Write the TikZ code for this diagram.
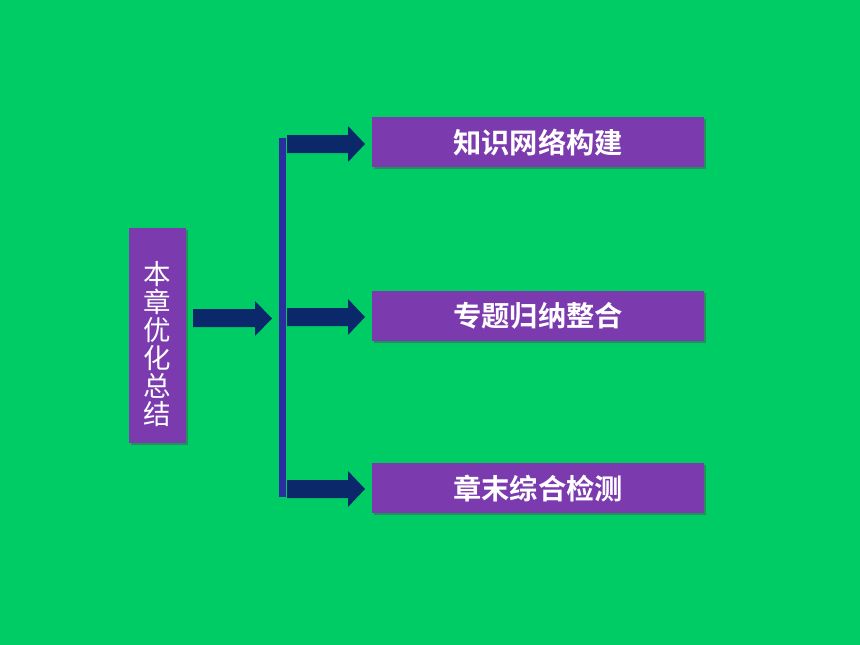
\documentclass[tikz,border=0pt]{standalone}
\usepackage{fontspec}
\newfontfamily\cjk{Noto Sans CJK SC}
\newfontfamily\cjkb{Noto Sans CJK SC Bold}
\usetikzlibrary{shadows}
\definecolor{bg}{HTML}{00CC66}
\definecolor{boxp}{HTML}{7B3AAE}
\definecolor{arr}{HTML}{0A286A}
\definecolor{barc}{HTML}{2A2E9E}
\begin{document}
\begin{tikzpicture}[x=1pt,y=-1pt,
  pbox/.style={fill=boxp,draw=none,drop shadow={shadow xshift=1.5pt,shadow yshift=-1.5pt,opacity=0.45,fill=black!70}},
  arrowshape/.style={fill=arr,draw=none}]
\fill[bg] (0,0) rectangle (860,645);
\useasboundingbox (0,0) rectangle (860,645);
% left box
\node[pbox,minimum width=57pt,minimum height=215pt,inner sep=0pt,anchor=north west] (L) at (129,228) {};
\node[text=white,font=\cjk\fontsize{27.5}{28}\selectfont,align=center,inner sep=0pt] (Lt) at (157.5,344) {本\\章\\优\\化\\总\\结};
% right boxes
\node[pbox,minimum width=332pt,minimum height=50pt,inner sep=0pt,anchor=north west] (A) at (372,117) {};
\node[text=white,font=\cjkb\fontsize{28.3}{30}\selectfont,inner sep=0pt] at (A.center) {知识网络构建};
\node[pbox,minimum width=332pt,minimum height=50pt,inner sep=0pt,anchor=north west] (B) at (372,291) {};
\node[text=white,font=\cjkb\fontsize{28.3}{30}\selectfont,inner sep=0pt] at (B.center) {专题归纳整合};
\node[pbox,minimum width=332pt,minimum height=50pt,inner sep=0pt,anchor=north west] (C) at (372,463) {};
\node[text=white,font=\cjkb\fontsize{28.3}{30}\selectfont,inner sep=0pt] at (C.center) {章末综合检测};
% vertical bar
\fill[barc] (279,138) rectangle (286,497);
% left arrow
\fill[arr] (193,309) -- (255,309) -- (255,301) -- (272,318.5) -- (255,336) -- (255,327) -- (193,327) -- cycle;
% right arrows
\fill[arr] (287,135) -- (348,135) -- (348,126) -- (365,144) -- (348,162) -- (348,153) -- (287,153) -- cycle;
\fill[arr] (287,308) -- (348,308) -- (348,299) -- (365,317) -- (348,335) -- (348,326) -- (287,326) -- cycle;
\fill[arr] (287,480) -- (348,480) -- (348,471) -- (365,489) -- (348,507) -- (348,498) -- (287,498) -- cycle;
\end{tikzpicture}
\end{document}
